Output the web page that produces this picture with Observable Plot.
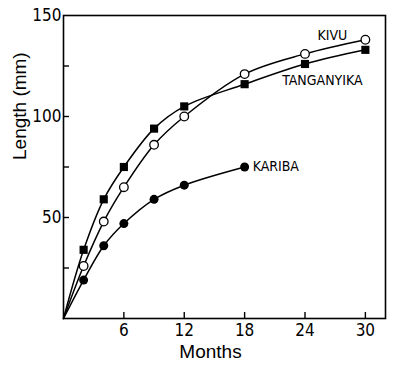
<!DOCTYPE html>
<html>
<head>
<meta charset="utf-8">
<script src="https://cdn.jsdelivr.net/npm/d3@7"></script>
<script src="https://cdn.jsdelivr.net/npm/@observablehq/plot@0.6"></script>
<style>
  html, body { margin: 0; padding: 0; background: #fff; }
</style>
</head>
<body>
<div id="chart"></div>
<script>
const months = [2, 4, 6, 9, 12, 18, 24, 30];
const tanganyika = [34, 59, 75, 94, 105, 116, 126, 133];
const kivu = [26, 48, 65, 86, 100, 121, 131, 138];
const kariba = [19, 36, 47, 59, 66, 75];
const seriesNames = ["TANGANYIKA", "KIVU", "KARIBA"];
const xTicks = [6, 12, 18, 24, 30];
const yTickLabels = [50, 100, 150];
const yTicks = [25, 50, 75, 100, 125];

const pts = (name, vals) => vals.map((v, i) => ({series: name, month: months[i], length: v}));
const tPts = pts("TANGANYIKA", tanganyika);
const kPts = pts("KIVU", kivu);
const bPts = pts("KARIBA", kariba);
const withOrigin = (name, arr) => [{series: name, month: 0, length: 0}, ...arr];
const lines = [...withOrigin("TANGANYIKA", tPts), ...withOrigin("KIVU", kPts), ...withOrigin("KARIBA", bPts)];
const last = arr => arr[arr.length - 1];

const tickFont = "'Liberation Sans Narrow', 'DejaVu Sans Condensed', sans-serif";
const labelFont = "'Liberation Sans', Arial, sans-serif";

const chart = Plot.plot({
  width: 400,
  height: 368,
  marginLeft: 63,
  marginRight: 15,
  marginTop: 15,
  marginBottom: 50,
  style: {fontFamily: tickFont, background: "#fff", color: "#000"},
  x: {domain: [0, 32]},
  y: {domain: [0, 150]},
  marks: [
    Plot.frame({stroke: "#000", strokeWidth: 1.6}),
    Plot.ruleX(xTicks, {x: d => d, y1: 0, y2: 0, insetTop: -6, stroke: "#000", strokeWidth: 1.4}),
    Plot.ruleY(yTicks, {y: d => d, x1: 0, x2: 0, insetRight: -6, stroke: "#000", strokeWidth: 1.4}),
    Plot.axisX(xTicks, {tickSize: 0, tickPadding: 5, fontSize: 17, label: null, fontFamily: tickFont}),
    Plot.axisY(yTickLabels, {tickSize: 0, tickPadding: 2, fontSize: 17, label: null, fontFamily: tickFont}),
    Plot.line(lines, {x: "month", y: "length", z: "series", curve: "catmull-rom", stroke: "#000", strokeWidth: 1.5}),
    Plot.dot(tPts, {x: "month", y: "length", symbol: "square", r: 4.6, fill: "#000", stroke: "none"}),
    Plot.dot(kPts, {x: "month", y: "length", r: 4.3, fill: "#fff", stroke: "#000", strokeWidth: 1.3}),
    Plot.dot(bPts, {x: "month", y: "length", r: 4.5, fill: "#000", stroke: "none"}),
    Plot.text([last(kPts)], {x: "month", y: "length", text: d => seriesNames[1], dx: -33, dy: -4, fontSize: 14, fontFamily: tickFont, letterSpacing: 1.5, fill: "#000"}),
    Plot.text([last(tPts)], {x: "month", y: "length", text: d => seriesNames[0], dx: -43, dy: 31, fontSize: 14, fontFamily: tickFont, fill: "#000"}),
    Plot.text([last(bPts)], {x: "month", y: "length", text: d => seriesNames[2], dx: 8, dy: 0, textAnchor: "start", fontSize: 14, fontFamily: tickFont, letterSpacing: 1, fill: "#000"}),
    Plot.text(["Months"], {frameAnchor: "bottom", text: d => d, dx: -14, dy: 39, fontSize: 19, fontFamily: labelFont, fill: "#000"}),
    Plot.text(["Length (mm)"], {frameAnchor: "left", text: d => d, dx: -44, dy: -7, rotate: -90, fontSize: 19, fontFamily: labelFont, fill: "#000"})
  ]
});
document.getElementById("chart").appendChild(chart);
</script>
</body>
</html>
